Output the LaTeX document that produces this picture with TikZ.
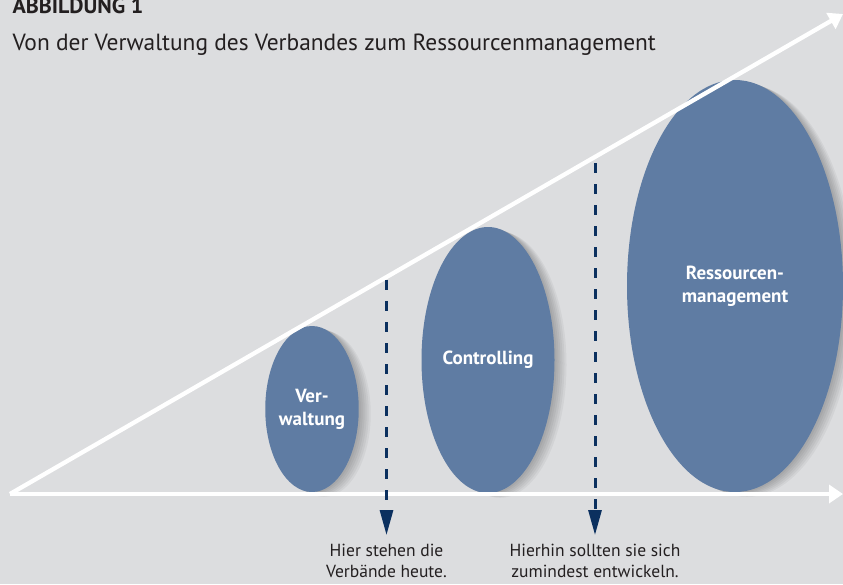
\documentclass[tikz,border=0pt]{standalone}
\usepackage{fontspec}
\setmainfont{PT Sans}
\usetikzlibrary{positioning, shapes.geometric, arrows.meta}

\definecolor{paper}{HTML}{DCDDDF}
\definecolor{ovalblue}{HTML}{5F7CA3}
\definecolor{navy}{HTML}{0B305F}
\definecolor{ink}{HTML}{231F20}

\tikzset{
	softshadow/.style={preaction={fill=black, opacity=0.045, transform canvas={xshift=#1, yshift=-0.4*#1}}},
	stage/.style={ellipse, fill=ovalblue, text=white, align=center, inner sep=0pt,
		font=\bfseries\fontsize{19}{23}\selectfont,
		softshadow=2pt, softshadow=4pt, softshadow=6pt, softshadow=8pt, softshadow=10pt, softshadow=12pt},
	axisline/.style={white, line width=4.3pt, -{Triangle[length=14pt, width=18pt]}},
	marker/.style={navy, line width=3pt, dash pattern=on 10pt off 11pt,
		-{Triangle[length=25pt, width=13pt]}},
	note/.style={text=ink, align=center, font=\fontsize{17.5}{20.5}\selectfont}
}

\begin{document}
\begin{tikzpicture}[x=1pt, y=-1pt]
		\fill[paper] (0,0) rectangle (843,584);
		\useasboundingbox (0,0) rectangle (843,584);
		
		%Heading
		\node (title) at (9,13.5) [anchor=base west, text=ink, font=\bfseries\fontsize{22}{24}\selectfont]{ABBILDUNG 1};
		\node (subtitle) at (9,50) [anchor=base west, text=ink, font=\fontsize{23.4}{26}\selectfont]{Von der Verwaltung des Verbandes zum Ressourcenmanagement};
		
		%Shapes
		\node (admin) at (312,409) [stage, minimum width=86pt, minimum height=166pt]{Ver-\\waltung};
		\node (control) at (488,360) [stage, minimum width=133pt, minimum height=266pt]{Controlling};
		\node (resource) at (735,286) [stage, minimum width=216pt, minimum height=412pt]{Ressourcen-\\management};
		
		%Axes
		\coordinate (origin) at (10,494);
		\coordinate (timeend) at (843,494);
		\coordinate (growthend) at (843,14);
		\draw[axisline] (origin) -- (timeend);
		\draw[axisline] (origin) -- (growthend);
		
		%Markers
		\coordinate (nowtop) at (386.5,280);
		\coordinate (nowtip) at (386.5,535);
		\coordinate (goaltop) at (595,163);
		\coordinate (goaltip) at (595,535);
		\node (now) [note, below=6pt of nowtip]{Hier stehen die\\Verbände heute.};
		\node (goal) [note, below=6pt of goaltip]{Hierhin sollten sie sich\\zumindest entwickeln.};
		\draw[marker] (nowtop) -- (nowtip);
		\draw[marker] (goaltop) -- (goaltip);
\end{tikzpicture}
\end{document}
